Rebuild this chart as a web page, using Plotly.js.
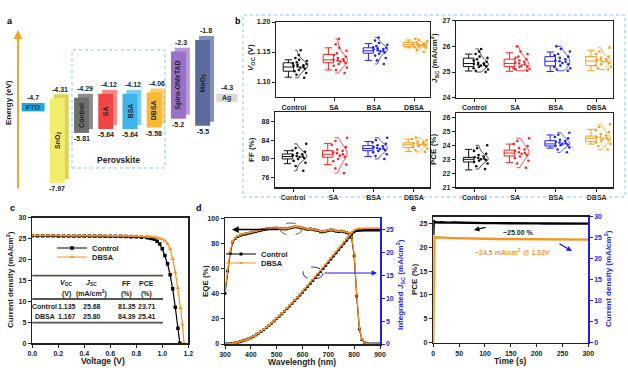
<!DOCTYPE html>
<html><head><meta charset="utf-8">
<script src="https://cdn.plot.ly/plotly-3.0.1.min.js"></script>
<style>html,body{margin:0;padding:0;background:#fff}#chart{width:628px;height:378px}</style>
</head><body><div id="chart"></div>
<script>
// ---------------- DATA ----------------
// (a) energy levels (eV)
const allNames = ['FTO','SnO2','Control','SA','BSA','DBSA','Spiro-OMeTAD','MoO3','Ag'];
const layerNames = ['SnO2','Control','SA','BSA','DBSA','Spiro-OMeTAD','MoO3'];
const layerLabels = ['SnO<sub>2</sub>','Control','SA','BSA','DBSA','Spiro-OMeTAD','MoO<sub>3</sub>'];
const layerLumo = [-4.31,-4.29,-4.12,-4.12,-4.06,-2.3,-1.8];
const layerHomo = [-7.97,-5.81,-5.64,-5.64,-5.58,-5.2,-5.5];
const electrodeNames = ['FTO','Ag'];
const electrodeWF = [-4.7,-4.3];

// (b) statistics
const groups = ['Control','SA','BSA','DBSA'];
const vocPts = [
 [1.107,1.112,1.115,1.118,1.12,1.122,1.124,1.125,1.126,1.127,1.128,1.129,1.13,1.131,1.133,1.135,1.137,1.14,1.145,1.153],
 [1.115,1.12,1.124,1.127,1.13,1.132,1.134,1.135,1.136,1.137,1.138,1.14,1.142,1.145,1.148,1.152,1.157,1.163,1.172],
 [1.13,1.136,1.14,1.144,1.147,1.149,1.151,1.152,1.153,1.154,1.155,1.156,1.157,1.158,1.16,1.162,1.165,1.169,1.174],
 [1.15,1.154,1.157,1.158,1.159,1.16,1.161,1.161,1.162,1.162,1.163,1.163,1.164,1.165,1.166,1.168,1.17,1.172]];
const vocQ1 = [1.118,1.132,1.148,1.1595], vocMed = [1.125,1.137,1.152,1.162], vocQ3 = [1.132,1.146,1.157,1.166];
const vocLo = [1.108,1.12,1.136,1.157], vocHi = [1.137,1.157,1.164,1.17];

const jscPts = [
 [25.0,25.05,25.1,25.15,25.2,25.22,25.25,25.28,25.3,25.32,25.34,25.36,25.4,25.45,25.5,25.55,25.6,25.7,25.8,25.9],
 [25.05,25.1,25.12,25.15,25.2,25.22,25.25,25.3,25.33,25.36,25.4,25.45,25.5,25.55,25.6,25.7,25.8,26.0],
 [25.05,25.1,25.15,25.2,25.25,25.3,25.35,25.4,25.42,25.45,25.5,25.55,25.6,25.65,25.7,25.8,25.9,26.0],
 [25.1,25.15,25.2,25.25,25.3,25.35,25.4,25.42,25.45,25.48,25.5,25.55,25.6,25.7,25.8,25.95]];
const jscQ1 = [25.21,25.21,25.24,25.25], jscMed = [25.33,25.33,25.42,25.43], jscQ3 = [25.54,25.5,25.6,25.6];
const jscLo = [25.04,25.03,25.02,25.05], jscHi = [25.70,25.75,25.78,25.85];

const ffPts = [
 [77.5,78.5,79.2,79.6,80.0,80.2,80.4,80.5,80.6,80.8,81.0,81.2,81.5,81.8,82.3,83.2],
 [77.0,78.0,78.8,79.5,80.0,80.4,80.7,81.0,81.2,81.4,81.7,82.0,82.5,83.0,83.8,84.5],
 [80.0,80.6,81.0,81.4,81.7,81.9,82.1,82.2,82.3,82.5,82.7,82.9,83.2,83.5,84.0,84.5],
 [81.5,81.9,82.2,82.5,82.7,82.9,83.0,83.1,83.2,83.3,83.5,83.7,84.0,84.2,84.5]];
const ffQ1 = [80.0,80.36,81.75,82.4], ffMed = [80.5,81.0,82.2,83.0], ffQ3 = [81.06,81.75,82.8,83.4];
const ffLo = [79.0,78.8,80.5,81.6], ffHi = [81.75,83.3,83.7,84.2];

const pcePts = [
 [22.3,22.5,22.7,22.8,22.9,22.95,23.0,23.05,23.1,23.15,23.2,23.3,23.4,23.6,23.8,24.0],
 [22.4,22.7,22.9,23.1,23.2,23.3,23.4,23.45,23.5,23.6,23.7,23.8,23.95,24.1,24.3,24.5],
 [23.5,23.7,23.85,23.95,24.0,24.05,24.1,24.15,24.2,24.25,24.3,24.4,24.5,24.6,24.75,24.9],
 [23.7,23.95,24.1,24.2,24.3,24.4,24.45,24.5,24.55,24.6,24.7,24.8,24.95,25.1,25.3,25.5]];
const pceQ1 = [22.81,23.24,23.95,24.26], pceMed = [23.0,23.45,24.1,24.5], pceQ3 = [23.14,23.66,24.33,24.66];
const pceLo = [22.24,22.76,23.8,24.09], pceHi = [23.71,24.09,24.74,25.14];

// (c) J-V
const vCtrl = [0,0.04,0.08,0.12,0.16,0.2,0.24,0.28,0.32,0.36,0.4,0.44,0.48,0.52,0.56,0.6,0.64,0.68,0.72,0.76,0.8,0.84,0.88,0.9,0.92,0.94,0.96,0.98,1.0,1.02,1.04,1.06,1.08,1.1,1.12,1.135];
const jCtrl = [25.68,25.67,25.67,25.66,25.66,25.65,25.65,25.64,25.64,25.63,25.62,25.62,25.61,25.6,25.59,25.58,25.56,25.54,25.51,25.47,25.42,25.35,25.25,25.17,25.05,24.85,24.4,23.7,22.6,21.0,19.0,16.4,13.0,8.6,3.6,0];
const vDBSA = [0,0.04,0.08,0.12,0.16,0.2,0.24,0.28,0.32,0.36,0.4,0.44,0.48,0.52,0.56,0.6,0.64,0.68,0.72,0.76,0.8,0.84,0.88,0.9,0.92,0.94,0.96,0.98,1.0,1.02,1.04,1.06,1.08,1.1,1.12,1.14,1.155,1.167];
const jDBSA = [25.80,25.80,25.79,25.79,25.78,25.78,25.77,25.77,25.76,25.76,25.75,25.75,25.74,25.73,25.72,25.71,25.7,25.68,25.66,25.63,25.6,25.56,25.5,25.46,25.4,25.32,25.2,25.05,24.85,24.5,23.8,22.5,20.2,17.0,13.2,8.5,4.5,0];
const tableHead1 = ['<i>V</i><sub>OC</sub>','<i>J</i><sub>SC</sub>','FF','PCE'];
const tableHead2 = ['(V)','(mA/cm<sup>2</sup>)','(%)','(%)'];
const tableRowNames = ['Control','DBSA'];
const tableRows = [['1.135','25.68','81.35','23.71'],['1.167','25.80','84.39','25.41']];

// (d) EQE
const wl = [300,310,320,330,340,350,360,370,380,390,400,410,420,430,440,450,460,470,480,490,500,510,520,530,540,550,560,570,580,590,600,610,620,630,640,650,660,670,680,690,700,710,720,730,740,750,760,770,780,790,800,810,820,830,840,850,860,870,880,890,900];
const eqeCtrl = [40,58,72,81,84,85.5,86.5,87,87.5,88,88.5,89,89.5,90,90.5,91,91.5,91.8,92,92.2,92.2,92,91.7,91.5,91.7,92.2,92.7,93.2,93,92.5,92.2,91.7,91.2,91.5,91.2,90.7,90.2,89.2,89.2,89.7,90.2,90.7,90.5,89.7,89.5,89.7,89.2,88.7,88,85,70,38,12,3.5,1,0.3,0,0,0,0,0];
const eqeDBSA = [42,60,74,82,84.5,86,87,87.5,88,88.5,89,89.5,90,90.5,91,91.5,92,92,92.3,92.5,92.5,92.3,92,91.8,92,92.5,93,93.5,93.3,92.8,92.5,92,91.5,91.8,91.5,91,90.5,89.5,89.5,90,90.5,91,90.8,90,89.8,90,89.5,89,88.5,86,72,40,13,4,1,0.3,0,0,0,0,0];
const intCtrl = [0,0.02,0.06,0.13,0.24,0.38,0.53,0.7,0.88,1.1,1.33,1.64,1.97,2.33,2.72,3.13,3.57,4.03,4.5,5.0,5.51,6.04,6.58,7.13,7.69,8.27,8.86,9.45,10.05,10.66,11.29,11.92,12.56,13.2,13.85,14.5,15.15,15.81,16.48,17.14,17.82,18.5,19.18,19.87,20.56,21.24,21.93,22.62,23.3,23.95,24.44,24.7,24.78,24.8,24.81,24.81,24.81,24.81,24.81,24.81,24.81];
const intDBSA = [0,0.02,0.06,0.14,0.25,0.39,0.54,0.71,0.9,1.12,1.35,1.67,2.0,2.37,2.76,3.18,3.62,4.09,4.57,5.07,5.59,6.13,6.68,7.23,7.8,8.39,8.98,9.58,10.19,10.81,11.45,12.09,12.74,13.39,14.05,14.71,15.37,16.04,16.72,17.39,18.08,18.77,19.46,20.16,20.86,21.55,22.25,22.95,23.65,24.32,24.83,25.1,25.19,25.21,25.22,25.22,25.22,25.22,25.22,25.22,25.22];

// (e) steady-state output
const tSec = [0,1,2,3,5,10,15,20,30,40,50,60,80,100,120,140,160,180,200,220,240,260,280,300];
const pceT = [22.5,25.7,25.0,25.3,25.25,25.2,25.25,25.2,25.15,25.2,25.15,25.1,25.1,25.05,25.05,25.0,25.0,24.98,25.0,24.97,24.97,24.96,24.95,24.95];
const curT = [0,24.9,25.1,25.1,25.1,25.05,25.0,25.0,24.95,24.9,24.85,24.8,24.8,24.75,24.7,24.7,24.65,24.65,24.6,24.6,24.6,24.55,24.55,24.55];

// ---------------- STYLE / LAYOUT ----------------
const W = 628, H = 378;
const X = p => p / W, Y = p => 1 - p / H;
const DARK = '#222', ORANGE = '#F7941D', BLUE = '#1F1FE6';
const layerColors = ['#F2EE6B','#6E6E6E','#F04545','#3DB5E8','#F7B933','#9A6FC7','#5C6B9E'];
const layerDepthColors = ['#D9D45A','#8C8C8C','#F58A8A','#7FCDEE','#F9CF70','#B897D6','#8391BA'];
const electrodeColors = ['#1FA6E0','#D9D9D9'];
const groupColors = ['#111111','#FF2020','#2020FF','#FF9A1A'];

const traces = [];
const annotations = [];
const shapes = [];
function ann(o){ annotations.push(Object.assign({xanchor:'center', yanchor:'middle', showarrow:false}, o)); }
function pann(px, py, text, o){ ann(Object.assign({x:X(px), y:Y(py), xref:'paper', yref:'paper', text}, o||{})); }
function arrow(hx, hy, ax, ay, color, w){
  annotations.push({x:X(hx), y:Y(hy), xref:'paper', yref:'paper', ax, ay, axref:'pixel', ayref:'pixel', text:'',
    showarrow:true, arrowhead:2, arrowsize:0.9, arrowwidth:w, arrowcolor:color});
}

// ---- panel a ----
const heights = layerLumo.map((l,i)=>l-layerHomo[i]);
traces.push({type:'bar', x:layerNames, base:layerHomo.map(v=>v+0.17), y:heights, width:0.62, offset:-0.15,
  marker:{color:layerDepthColors, line:{width:0}}, xaxis:'x', yaxis:'y', showlegend:false, hoverinfo:'skip'});
traces.push({type:'bar', x:layerNames, base:layerHomo, y:heights,
  width:0.62, marker:{color:layerColors, line:{width:0}}, xaxis:'x', yaxis:'y', showlegend:false, hoverinfo:'skip'});
traces.push({type:'bar', x:electrodeNames, base:electrodeWF.map(v=>v-0.18), y:electrodeWF.map(()=>0.36),
  width:[0.95,0.88], marker:{color:electrodeColors, line:{width:0}}, xaxis:'x', yaxis:'y', showlegend:false, hoverinfo:'skip'});
layerNames.forEach((n,i)=>{
  ann({x:n, y:layerLumo[i], xref:'x', yref:'y', text:String(layerLumo[i]), yshift:9, xshift:3, font:{size:7}});
  ann({x:n, y:layerHomo[i], xref:'x', yref:'y', text:String(layerHomo[i]), yshift:-6, font:{size:7}});
  ann({x:n, y:(layerLumo[i]+layerHomo[i])/2, xref:'x', yref:'y', text:layerLabels[i], textangle:-90, font:{size:7, color:'#222'}});
});
electrodeNames.forEach((n,i)=>{
  ann({x:n, y:electrodeWF[i], xref:'x', yref:'y', text:String(electrodeWF[i]), yshift:10, font:{size:7}});
  ann({x:n, y:electrodeWF[i], xref:'x', yref:'y', text:n, font:{size:7, color: i===0?'#0a3a66':'#333'}});
});
pann(118, 160, 'Perovskite', {font:{size:8.5}});
pann(8, 103, 'Energy (eV)', {textangle:-90, font:{size:8}});
arrow(18, 30, 0, 160, '#F5A623', 2);
shapes.push({type:'rect', xref:'paper', yref:'paper', x0:X(72), x1:X(165), y0:Y(168), y1:Y(50), line:{color:'#7EC8E3', width:1, dash:'dot'}});

// ---- panel b ----
const bPanels = [
  {pts:vocPts,q1:vocQ1,med:vocMed,q3:vocQ3,lo:vocLo,hi:vocHi,xa:'x2',ya:'y2'},
  {pts:jscPts,q1:jscQ1,med:jscMed,q3:jscQ3,lo:jscLo,hi:jscHi,xa:'x3',ya:'y3'},
  {pts:ffPts,q1:ffQ1,med:ffMed,q3:ffQ3,lo:ffLo,hi:ffHi,xa:'x4',ya:'y4'},
  {pts:pcePts,q1:pceQ1,med:pceMed,q3:pceQ3,lo:pceLo,hi:pceHi,xa:'x5',ya:'y5'}];
bPanels.forEach(p=>{
  groups.forEach((g,gi)=>{
    const c = groupColors[gi];
    traces.push({type:'box', x:[gi-0.14], q1:[p.q1[gi]], median:[p.med[gi]], q3:[p.q3[gi]], lowerfence:[p.lo[gi]], upperfence:[p.hi[gi]],
      width:0.26, whiskerwidth:0.7, line:{color:c, width:1}, fillcolor:'rgba(255,255,255,0)', xaxis:p.xa, yaxis:p.ya, showlegend:false, hoverinfo:'skip'});
    traces.push({type:'violin', x:p.pts[gi].map(()=>gi+0.03), y:p.pts[gi], side:'positive', width:0.62, spanmode:'hard',
      points:'all', pointpos:0.45, jitter:0.8, marker:{color:c, size:2.6, symbol:'circle'},
      line:{color:c, width:0.8}, fillcolor:'rgba(0,0,0,0)', box:{visible:false}, meanline:{visible:false},
      xaxis:p.xa, yaxis:p.ya, showlegend:false, hoverinfo:'skip'});
  });
});
shapes.push({type:'rect', xref:'paper', yref:'paper', x0:X(243), x1:X(625), y0:Y(197), y1:Y(15), line:{color:'#7EC8E3', width:1, dash:'dot'}});
pann(251, 58, '<i>V</i><sub>OC</sub> (V)', {textangle:-90, font:{size:8}});
pann(434, 58, '<i>J</i><sub>SC</sub> (mA/cm<sup>2</sup>)', {textangle:-90, font:{size:8}});
pann(252, 150, 'FF (%)', {textangle:-90, font:{size:8}});
pann(434, 150, 'PCE (%)', {textangle:-90, font:{size:8}});

// ---- panel c ----
traces.push({type:'scatter', mode:'lines+markers', name:'Control', x:vCtrl, y:jCtrl, xaxis:'x6', yaxis:'y6',
  line:{color:'#000', width:1.2}, marker:{symbol:'square', size:3.5, color:'#000'}, legend:'legend'});
traces.push({type:'scatter', mode:'lines+markers', name:'DBSA', x:vDBSA, y:jDBSA, xaxis:'x6', yaxis:'y6',
  line:{color:ORANGE, width:1.2}, marker:{symbol:'triangle-up', size:4, color:ORANGE}, legend:'legend3'});
[275.7, 299, 322.7].forEach(py=>shapes.push({type:'line', xref:'paper', yref:'paper', x0:X(32.3), x1:X(163), y0:Y(py), y1:Y(py), line:{color:'#555', width:1.8}}));
const colX = [66, 91, 126, 146];
tableHead1.forEach((t,i)=>pann(colX[i], 283, t, {font:{size:7}}));
tableHead2.forEach((t,i)=>pann(colX[i], 293.5, t, {font:{size:7}}));
tableRows.forEach((row,r)=>{
  const py = r===0 ? 306 : 316.5;
  pann(r===0?44:45, py, tableRowNames[r], {font:{size:7}});
  row.forEach((t,i)=>pann(colX[i]+1, py, t, {font:{size:7}}));
});
pann(103, 361, 'Voltage (V)', {font:{size:8.5}});
pann(10, 280, 'Current density (mA/cm<sup>2</sup>)', {textangle:-90, font:{size:8}});

// ---- panel d ----
traces.push({type:'scatter', mode:'lines+markers', name:'Control', x:wl, y:eqeCtrl, xaxis:'x7', yaxis:'y7',
  line:{color:'#000', width:1.2}, marker:{symbol:'square', size:2.8, color:'#000'}, legend:'legend2'});
traces.push({type:'scatter', mode:'lines+markers', name:'DBSA', x:wl, y:eqeDBSA, xaxis:'x7', yaxis:'y7',
  line:{color:ORANGE, width:1.2}, marker:{symbol:'triangle-up', size:3.2, color:ORANGE}, legend:'legend4'});
traces.push({type:'scatter', mode:'lines+markers', x:wl, y:intCtrl, xaxis:'x7', yaxis:'y8', showlegend:false,
  line:{color:'#000', width:1.2}, marker:{symbol:'square', size:2.8, color:'#000'}});
traces.push({type:'scatter', mode:'lines+markers', x:wl, y:intDBSA, xaxis:'x7', yaxis:'y8', showlegend:false,
  line:{color:ORANGE, width:1.2}, marker:{symbol:'triangle-up', size:3.2, color:ORANGE}});
shapes.push({type:'circle', xref:'paper', yref:'paper', x0:X(280), x1:X(302), y0:Y(235), y1:Y(223), line:{color:'#555', width:1, dash:'dash'}});
shapes.push({type:'circle', xref:'paper', yref:'paper', x0:X(303), x1:X(323), y0:Y(279), y1:Y(267), line:{color:BLUE, width:1, dash:'dash'}});
arrow(232, 229.5, 48, 0, '#000', 1.5);
arrow(377, 273, -54, 0, BLUE, 1.2);
pann(302, 362, 'Wavelength (nm)', {font:{size:8.5}});
pann(205, 281, 'EQE (%)', {textangle:-90, font:{size:8}});
pann(400, 285, 'Integrated <i>J</i><sub>SC</sub> (mA/cm<sup>2</sup>)', {textangle:-90, font:{size:8, color:BLUE}});

// ---- panel e ----
traces.push({type:'scatter', mode:'lines', x:tSec, y:pceT, xaxis:'x8', yaxis:'y9', showlegend:false, line:{color:'#000', width:2.4}});
traces.push({type:'scatter', mode:'lines', x:tSec, y:curT, xaxis:'x8', yaxis:'y10', showlegend:false, line:{color:ORANGE, width:2.4}});
pann(518, 232, '~25.00 %', {font:{size:7}});
arrow(474, 230, 13, -3, '#000', 1.2);
pann(512, 252, '~24.5 mA/cm<sup>2</sup> @ 1.02V', {font:{size:7, color:ORANGE}});
arrow(572, 251, -14, -8, BLUE, 1.2);
pann(510, 361, 'Time (s)', {font:{size:8.5}});
pann(414, 280, 'PCE (%)', {textangle:-90, font:{size:8}});
pann(608, 279, 'Current density (mA/cm<sup>2</sup>)', {textangle:-90, font:{size:8, color:BLUE}});

// panel letters
[['a',10,21],['b',238,21],['c',12,208],['d',199,208],['e',413,208]].forEach(([t,px,py])=>pann(px, py, t, {font:{size:9, color:'#000'}}));

// axes
function axis(extra){
  return Object.assign({showgrid:false, zeroline:false, showline:true, linecolor:DARK, linewidth:1.2,
    ticks:'outside', ticklen:3, tickwidth:1, tickcolor:DARK, tickfont:{size:7}, fixedrange:true}, extra);
}
function bX(dom, a){ return axis({domain:dom, anchor:a, type:'linear', range:[-0.45,3.4], tickvals:[0,1,2,3], ticktext:groups, mirror:true, tickfont:{size:7}}); }
function blueY(extra){
  return axis(Object.assign({side:'right', linecolor:BLUE, tickcolor:BLUE, tickfont:{size:7, color:BLUE}}, extra));
}
function leg(px, py){ return {x:X(px), y:Y(py), xanchor:'left', yanchor:'middle', bgcolor:'rgba(0,0,0,0)', font:{size:7.5}, itemwidth:30}; }

const layout = {
  width:W, height:H, margin:{l:0,r:0,t:0,b:0}, paper_bgcolor:'#fff', plot_bgcolor:'rgba(0,0,0,0)',
  font:{family:'Liberation Sans, Arial, sans-serif', size:8, color:DARK, weight:'bold'},
  barmode:'overlay', boxmode:'overlay', violinmode:'overlay',
  xaxis:{domain:[X(21),X(239)], anchor:'y', type:'category', categoryarray:allNames, categoryorder:'array', visible:false, fixedrange:true},
  yaxis:{domain:[Y(190),Y(30)], anchor:'x', range:[-8.272,-1.369], visible:false, fixedrange:true},
  xaxis2:bX([X(276),X(430)],'y2'),
  yaxis2:axis({domain:[Y(97),Y(22)], anchor:'x2', range:[1.075,1.2], tickvals:[1.10,1.15,1.20], tickformat:'.2f', mirror:true}),
  xaxis3:bX([X(456),X(613)],'y3'),
  yaxis3:axis({domain:[Y(97.7),Y(20.7)], anchor:'x3', range:[24,27], tickvals:[24,25,26,27], mirror:true}),
  xaxis4:bX([X(275),X(430)],'y4'),
  yaxis4:axis({domain:[Y(187.3),Y(111.7)], anchor:'x4', range:[74,90], tickvals:[76,80,84,88], mirror:true}),
  xaxis5:bX([X(456),X(613)],'y5'),
  yaxis5:axis({domain:[Y(187.3),Y(112.7)], anchor:'x5', range:[21,26.33], tickvals:[21,22,23,24,25,26], mirror:true}),
  xaxis6:axis({domain:[X(32.3),X(188.3)], anchor:'y6', range:[0,1.2], dtick:0.2, tickformat:'.1f', mirror:true, linewidth:1.5}),
  yaxis6:axis({domain:[Y(343.3),Y(217.7)], anchor:'x6', range:[0,30], dtick:5, mirror:true, linewidth:1.5}),
  xaxis7:axis({domain:[X(225),X(380)], anchor:'y7', range:[300,900], dtick:100, mirror:true, linewidth:1.5}),
  yaxis7:axis({domain:[Y(344),Y(218.3)], anchor:'x7', range:[0,100], dtick:20, linewidth:1.5}),
  yaxis8:blueY({overlaying:'y7', anchor:'x7', range:[0,27.4], tickvals:[0,5,10,15,20,25], linewidth:1.5}),
  xaxis8:axis({domain:[X(433.3),X(588.3)], anchor:'y9', range:[0,300], dtick:50, mirror:true, linewidth:1.5}),
  yaxis9:axis({domain:[Y(342.7),Y(216.7)], anchor:'x8', range:[0,26.4], dtick:5, linewidth:1.5}),
  yaxis10:blueY({overlaying:'y9', anchor:'x8', range:[0,30], dtick:5, linewidth:1.5}),
  legend:leg(52, 248), legend3:leg(52, 257),
  legend2:leg(221, 254), legend4:leg(221, 263),
  annotations, shapes
};

Plotly.newPlot('chart', traces, layout, {staticPlot:true, displayModeBar:false});
</script>
</body></html>
